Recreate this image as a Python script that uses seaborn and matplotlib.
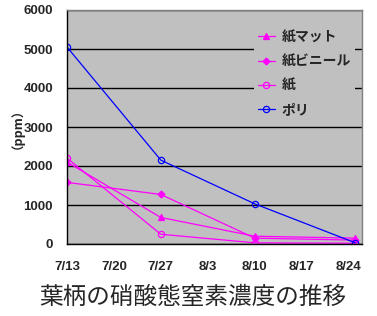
import matplotlib
matplotlib.use("Agg")
import matplotlib.pyplot as plt
import seaborn as sns
import pandas as pd
import numpy as np

dates = ["2000-07-13", "2000-07-27", "2000-08-10", "2000-08-25"]
series_names = ["紙マット", "紙ビニール", "紙", "ポリ"]
kami_mat = [2100, 680, 200, 150]
kami_vinyl = [1580, 1270, 150, 100]
kami = [2200, 250, 30, 20]
poly = [5050, 2150, 1030, 30]
tick_dates = ["2000-07-13", "2000-07-20", "2000-07-27", "2000-08-03",
              "2000-08-10", "2000-08-17", "2000-08-24"]
tick_labels = ["7/13", "7/20", "7/27", "8/3", "8/10", "8/17", "8/24"]
title = "葉柄の硝酸態窒素濃度の推移"
ylabel = "（ppm）"

sns.set_theme(style="white")
plt.rcParams['font.family'] = ['Noto Sans CJK JP', 'DejaVu Sans']

base = pd.Timestamp(dates[0])
day = [(pd.Timestamp(d) - base).days for d in dates]
tick_day = [(pd.Timestamp(d) - base).days for d in tick_dates]

W, H = 377, 316
fig = plt.figure(figsize=(W / 100, H / 100), dpi=100)
fig.patch.set_facecolor("white")
ax = fig.add_axes([67 / W, (H - 244) / H, (362 - 67) / W, (244 - 10) / H])
ax.set_facecolor("#C0C0C0")

styles = [
    (kami_mat, "#FF00FF", "^", "#FF00FF"),
    (kami_vinyl, "#FF00FF", "D", "#FF00FF"),
    (kami, "#FF00FF", "o", "none"),
    (poly, "#0000FF", "o", "none"),
]
for name, (vals, col, mk, fc) in zip(series_names, styles):
    df = pd.DataFrame({"day": day, "v": vals})
    ms = 4.5 if mk != "D" else 3.5
    sns.lineplot(data=df, x="day", y="v", ax=ax, color=col, lw=0.9,
                 marker=mk, markersize=ms, markerfacecolor=fc,
                 markeredgecolor=col, markeredgewidth=0.9, label=name)

ax.set_xlim(0, 44)
ax.set_ylim(0, 6000)
ax.set_yticks(np.arange(0, 6001, 1000))
ax.yaxis.grid(True, color="black", lw=1)
ax.set_axisbelow(True)
ax.set_xticks(tick_day)
ax.set_xticklabels(tick_labels)
ax.tick_params(axis="x", direction="in", length=4, color="black", pad=12,
               labelsize=9.5)
ax.tick_params(axis="y", length=0, pad=10, labelsize=9.5)
for lab in ax.get_xticklabels() + ax.get_yticklabels():
    lab.set_fontweight("bold")
    lab.set_family("Liberation Sans")
ax.set_xlabel("")
ax.set_ylabel("")
for s in ["top", "right"]:
    ax.spines[s].set_color("#808080")
    ax.spines[s].set_linewidth(1)
for s in ["left", "bottom"]:
    ax.spines[s].set_color("black")
    ax.spines[s].set_linewidth(1)

leg = ax.legend(loc="upper left", bbox_to_anchor=(247 / W, (H - 19) / H),
                bbox_transform=fig.transFigure, frameon=True,
                prop={"size": 10, "weight": "bold"}, handlelength=1.2,
                handletextpad=0.5, labelspacing=0.75, borderpad=0.3)
leg.get_frame().set_facecolor("#C0C0C0")
leg.get_frame().set_edgecolor("none")
leg.get_frame().set_alpha(1)

fig.text(11 / W, (H - 122) / H, ylabel, rotation=90, ha="center",
         va="center", fontsize=9, fontweight="bold")
fig.text(193 / W, (H - 297) / H, title, ha="center", va="center",
         fontsize=17)

fig.savefig("out.png", dpi=100, facecolor="white")
